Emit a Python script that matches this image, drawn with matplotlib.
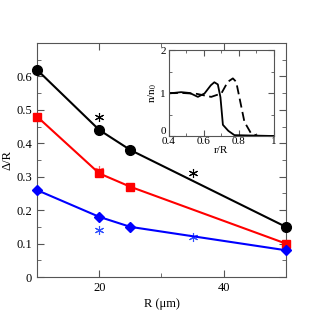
import numpy as np
import matplotlib.pyplot as plt
from matplotlib.ticker import MultipleLocator

plt.rcParams['font.family'] = ['Liberation Serif', 'DejaVu Serif']
plt.rcParams['mathtext.fontset'] = 'stix'

# main panel data
R = [10, 20, 25, 50]
black_y = [0.62, 0.44, 0.38, 0.15]
red_y = [0.48, 0.31, 0.27, 0.10]
blue_y = [0.26, 0.18, 0.15, 0.08]

# star points
star_black_x = [20, 35]
star_black_y = [0.48, 0.31]
star_red_x = [20]
star_red_y = [0.32]
star_blue_x = [20, 35]
star_blue_y = [0.14, 0.12]

# inset profiles
solid_r = [0.40, 0.47, 0.52, 0.566, 0.604, 0.64, 0.66, 0.68, 0.695, 0.709, 0.74, 0.775, 1.0]
solid_n = [0.99, 1.02, 1.0, 0.91, 0.99, 1.18, 1.25, 1.2, 0.9, 0.26, 0.12, 0.02, 0.0]
dash_r = [0.40, 0.48, 0.56, 0.642, 0.70, 0.737, 0.766, 0.785, 0.832, 0.87, 0.91, 1.0]
dash_n = [1.0, 1.0, 0.98, 0.91, 0.99, 1.26, 1.34, 1.26, 0.33, 0.06, 0.0, 0.0]

fig = plt.figure(figsize=(3.18, 3.26), dpi=100)
ax = fig.add_axes([0.1164, 0.1503, 0.7826, 0.7177])

ax.plot(R, black_y, '-o', color='black', lw=1.5, ms=7, zorder=3, clip_on=False)
ax.plot(R, red_y, '-s', color='red', lw=1.5, ms=6, zorder=3, clip_on=False)
ax.plot(R, blue_y, '-D', color='blue', lw=1.5, ms=5, zorder=3, clip_on=False)

ast = (6, 2, 0)
ax.plot(star_black_x, star_black_y, ls='none', marker=ast, color='black', ms=6.5, mew=0.8)
ax.plot(star_red_x, star_red_y, ls='none', marker=ast, color='#ff6060', ms=6.5, mew=0.8, zorder=2)
ax.plot(star_blue_x, star_blue_y, ls='none', marker=ast, color='#3050ff', ms=6.5, mew=0.8)

ax.set_xlim(10, 50)
ax.set_ylim(0, 0.7)
ax.xaxis.set_minor_locator(MultipleLocator(10))
ax.yaxis.set_minor_locator(MultipleLocator(0.05))
ax.set_yticks([0, 0.1, 0.2, 0.3, 0.4, 0.5, 0.6])
ax.set_yticklabels(['0', '0.1', '0.2', '0.3', '0.4', '0.5', '0.6'])
ax.set_xticks([20, 40])
ax.tick_params(which='both', direction='in', top=True, right=True, labelsize=9, color='#555555')
ax.tick_params(which='major', length=5)
ax.tick_params(which='minor', length=3)
for s in ax.spines.values():
    s.set_color('#555555')
ax.set_xlabel('R (μm)', fontsize=9, labelpad=3)
ax.set_ylabel('Δ/R', fontsize=9, labelpad=2)

# inset
ins = fig.add_axes([0.531, 0.5828, 0.330, 0.2638])
ins.plot(solid_r, solid_n, '-', color='black', lw=1.3)
ins.plot(dash_r, dash_n, '--', color='black', lw=1.3, dashes=(5, 2.5))
ins.set_xlim(0.4, 1)
ins.set_ylim(0, 2)
ins.xaxis.set_minor_locator(MultipleLocator(0.1))
ins.yaxis.set_minor_locator(MultipleLocator(0.5))
ins.set_yticks([0, 1, 2])
ins.set_xticks([0.4, 0.6, 0.8, 1.0])
ins.set_xticklabels(['0.4', '0.6', '0.8', '1'])
ins.tick_params(which='both', direction='in', top=True, right=True, labelsize=8, color='#555555')
ins.tick_params(axis='x', pad=1)
ins.tick_params(axis='y', pad=2)
ins.tick_params(which='major', length=4)
ins.tick_params(which='minor', length=2)
for s in ins.spines.values():
    s.set_color('#555555')
ins.set_xlabel('r/R', fontsize=8, labelpad=0)
ins.set_ylabel('n/n$_0$', fontsize=8, labelpad=1)

# inset "0" sits a bit higher so it clears "0.4"
ins.get_yticklabels()[0].set_verticalalignment('bottom')

fig.savefig('out.png', dpi=100)
